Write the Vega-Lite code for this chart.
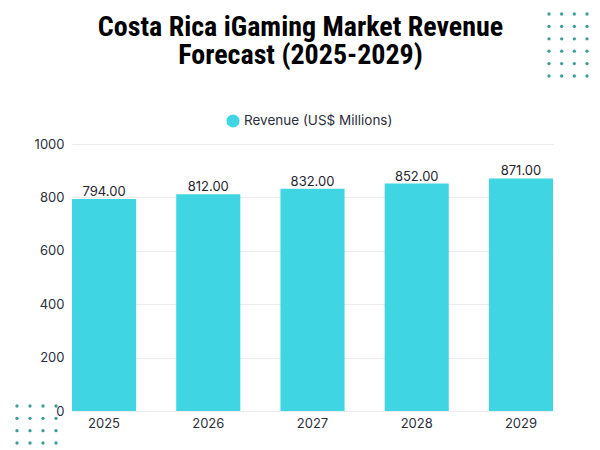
{
  "$schema": "https://vega.github.io/schema/vega-lite/v6.json",
  "background": "white",
  "autosize": "none",
  "width": 481,
  "height": 267,
  "padding": {"left": 72, "top": 144, "right": 47, "bottom": 39},
  "title": {
    "text": ["Costa Rica iGaming Market Revenue", "Forecast (2025-2029)"],
    "anchor": "middle",
    "dx": -12,
    "offset": -58,
    "font": "Roboto Condensed, DejaVu Sans Condensed, Liberation Sans, sans-serif",
    "fontSize": 28,
    "fontWeight": "bold",
    "color": "#000000",
    "lineHeight": 28
  },
  "datasets": {
    "revenue": [
      {"year": "2025", "series": "Revenue (US$ Millions)", "revenue": 794},
      {"year": "2026", "series": "Revenue (US$ Millions)", "revenue": 812},
      {"year": "2027", "series": "Revenue (US$ Millions)", "revenue": 832},
      {"year": "2028", "series": "Revenue (US$ Millions)", "revenue": 852},
      {"year": "2029", "series": "Revenue (US$ Millions)", "revenue": 871}
    ],
    "dotsTop": [
      {"c": 0, "r": 0}, {"c": 1, "r": 0}, {"c": 2, "r": 0}, {"c": 3, "r": 0},
      {"c": 0, "r": 1}, {"c": 1, "r": 1}, {"c": 2, "r": 1}, {"c": 3, "r": 1},
      {"c": 0, "r": 2}, {"c": 1, "r": 2}, {"c": 2, "r": 2}, {"c": 3, "r": 2},
      {"c": 0, "r": 3}, {"c": 1, "r": 3}, {"c": 2, "r": 3}, {"c": 3, "r": 3},
      {"c": 0, "r": 4}, {"c": 1, "r": 4}, {"c": 2, "r": 4}, {"c": 3, "r": 4},
      {"c": 0, "r": 5}, {"c": 1, "r": 5}, {"c": 2, "r": 5}, {"c": 3, "r": 5}
    ],
    "dotsBottom": [
      {"c": 0, "r": 0}, {"c": 1, "r": 0}, {"c": 2, "r": 0}, {"c": 3, "r": 0},
      {"c": 0, "r": 1}, {"c": 1, "r": 1}, {"c": 2, "r": 1}, {"c": 3, "r": 1},
      {"c": 0, "r": 2}, {"c": 1, "r": 2}, {"c": 2, "r": 2}, {"c": 3, "r": 2},
      {"c": 0, "r": 3}, {"c": 1, "r": 3}, {"c": 2, "r": 3}, {"c": 3, "r": 3}
    ]
  },
  "resolve": {"scale": {"x": "independent", "y": "independent", "color": "independent"}, "axis": {"x": "independent", "y": "independent"}},
  "layer": [
    {
      "data": {"name": "dotsTop"},
      "mark": {"type": "circle", "size": 11, "color": "#3f9c96", "opacity": 1, "clip": false},
      "encoding": {
        "x": {"field": "c", "type": "quantitative", "axis": null, "scale": {"domain": [0, 3], "range": [477, 515]}},
        "y": {"field": "r", "type": "quantitative", "axis": null, "scale": {"domain": [0, 5], "range": [-130, -68]}}
      }
    },
    {
      "data": {"name": "dotsBottom"},
      "mark": {"type": "circle", "size": 11, "color": "#3f9c96", "opacity": 1, "clip": false},
      "encoding": {
        "x": {"field": "c", "type": "quantitative", "axis": null, "scale": {"domain": [0, 3], "range": [-55, -16]}},
        "y": {"field": "r", "type": "quantitative", "axis": null, "scale": {"domain": [0, 3], "range": [262, 299]}}
      }
    },
    {
      "data": {"name": "revenue"},
      "layer": [
        {
          "mark": {"type": "bar"},
          "encoding": {
            "x": {
              "field": "year",
              "type": "nominal",
              "title": null,
              "scale": {"paddingInner": 0.385, "paddingOuter": 0},
              "axis": {"labelAngle": 0, "domain": false, "ticks": false, "grid": false, "labelPadding": 6, "labelFont": "Inter", "labelFontSize": 13, "labelColor": "#2b2f3a"}
            },
            "y": {
              "field": "revenue",
              "type": "quantitative",
              "title": null,
              "scale": {"domain": [0, 1000]},
              "axis": {"values": [0, 200, 400, 600, 800, 1000], "format": "d", "domain": false, "ticks": false, "grid": true, "gridColor": "#ececec", "labelPadding": 8, "labelFont": "Inter", "labelFontSize": 13, "labelColor": "#2b2f3a"}
            },
            "color": {
              "field": "series",
              "type": "nominal",
              "title": null,
              "scale": {"range": ["#40d5e3"]},
              "legend": {
                "orient": "none",
                "legendX": 154,
                "legendY": -30,
                "symbolType": "circle",
                "symbolSize": 170,
                "symbolStrokeWidth": 0,
                "labelFont": "Inter",
                "labelFontSize": 13.5,
                "labelColor": "#2b2f3a",
                "labelLimit": 300
              }
            }
          }
        },
        {
          "mark": {"type": "text", "baseline": "bottom", "dy": 0, "font": "Inter", "fontSize": 13, "color": "#1f2430"},
          "encoding": {
            "x": {"field": "year", "type": "nominal"},
            "y": {"field": "revenue", "type": "quantitative"},
            "text": {"field": "revenue", "type": "quantitative", "format": ".2f"}
          }
        }
      ]
    }
  ],
  "config": {"view": {"stroke": null}}
}
